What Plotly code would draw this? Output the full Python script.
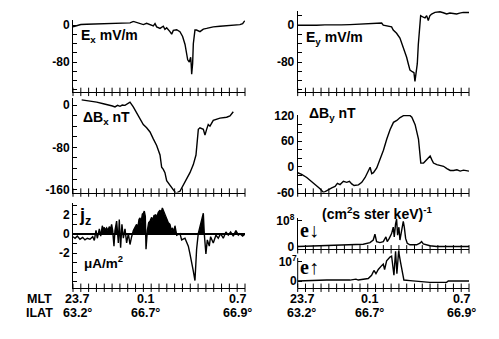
import plotly.graph_objects as go

W, H = 499, 339

# Horizontal coordinate: tick intervals along the pass, 0 = 23.7 MLT, 22 = 0.7 MLT
X_TICKS = list(range(23))
MLT_TICKS = [0, 9, 22]
MLT_LABELS = ["23.7", "0.1", "0.7"]
ILAT_LABELS = ["63.2", "66.7", "66.9"]

# Electric field Ex (mV/m)
T_EX = [0, 0.5, 1.0, 1.75, 2.5, 3.46, 4.5, 5.5, 6.86, 7.3, 7.72, 8.14, 8.57, 9.0, 9.42,
        9.85, 10.27, 10.49, 10.7, 11.13, 11.55, 11.76, 11.98, 12.4, 12.62, 12.83, 13.26,
        13.68, 14.02, 14.33, 14.54, 14.67, 14.88, 15.05, 15.12, 15.18, 15.3, 15.39, 15.6,
        15.8, 16.24, 16.67, 17.09, 17.94, 18.8, 19.65, 20.5, 21.35, 21.7, 22.0]
EX = [-3.5, -1, 1.5, 2.1, 2.3, 2.8, 3.0, 3.2, 4.2, 5.0, 8.3, 5.5, 3.5, 1.4, 4.2,
      2.1, -1.4, 3.5, -3.5, -6.9, -2.1, -9, -5.5, -13.9, -19.4, -11.1, -9.7,
      -13.9, -24.3, -41.6, -62.4, -74.8, -79.6, -69.3, -85, -106, -83, -40, -10.4,
      -10.4, -13.9, -8.3, -6.9, -3.5, -2.1, -1.4, 0, 1.4, 3.5, 10.4]

# Electric field Ey (mV/m)
T_EY = [0, 1.2, 2.43, 3.5, 4.57, 5.6, 6.71, 7.8, 8.85, 9.8, 10.78, 10.99, 11.5, 12.06,
        12.27, 12.7, 13.13, 13.35, 13.56, 13.77, 13.99, 14.2, 14.42, 14.72, 14.93, 15.06,
        15.19, 15.36, 15.49, 15.7, 15.79, 16.13, 16.35, 16.56, 16.77, 16.98, 17.2, 17.63,
        18.27, 18.7, 19.13, 19.55, 20.41, 20.8, 21.26, 22.0]
EY = [0, -0.7, 0, 0.7, 0, 0.7, 1.4, 2.1, 3.5, 2.8, 4.9, 0, -1.4, -3.5,
      -10.4, -17.3, -27.7, -38.1, -45, -58.9, -69.3, -83.2, -97, -100.5, -102.6, -121.3,
      -107.4, -83.2, -41.6, 13.9, 20.8, 17.3, 16, 20.8, 10.4, 20.8, 24.3, 27.7,
      29.1, 27, 24.3, 26.3, 24.3, 26.3, 27.7, 27.7]

# Magnetic perturbation dBx (nT)
T_BX = [1.11, 1.75, 2.4, 3.03, 3.88, 4.3, 4.73, 5.05, 5.37, 5.7, 6.01, 6.3, 6.65, 7.08,
        7.29, 7.71, 8.14, 8.57, 8.99, 9.42, 9.85, 10.27, 10.7, 11.13, 11.34, 11.55, 11.76,
        11.98, 12.4, 12.83, 13.17, 13.68, 14.11, 14.54, 14.96, 15.39, 15.73, 16.03, 16.24,
        16.67, 16.88, 17.09, 17.3, 17.52, 17.94, 18.8, 19.65, 20.08, 20.5]
BX = [9.7, 8.5, 7, 5.5, 2.4, 1.2, -0.6, -1.8, -3.6, -0.6, -2.4, 0, -0.6, 3.6,
      5.5, -3.6, -15.8, -26.7, -37, -43, -50.9, -64, -76.4, -94.5, -117.6, -121.8, -127.9,
      -143, -152, -161, -167, -163, -152, -140, -127.9, -112.7, -94.5, -46, -43,
      -46, -57, -46, -37, -40, -29.1, -24.8, -23, -20.6, -12.7]

# Magnetic perturbation dBy (nT)
T_BY = [0, 0.51, 1.16, 1.8, 2.44, 2.87, 3.3, 3.73, 4.37, 4.8, 5.1, 5.44, 5.87, 6.3, 6.64,
        6.94, 7.24, 7.8, 8.23, 8.66, 9.08, 9.3, 9.51, 9.73, 10.15, 10.58, 11.01, 11.44,
        11.87, 12.3, 12.73, 13.15, 13.58, 14.01, 14.44, 14.66, 15.08, 15.51, 15.73, 15.81,
        16.16, 16.59, 17.01, 17.23, 17.44, 17.87, 18.3, 18.73, 19.16, 19.59, 20.02, 20.45,
        20.87, 21.3, 22.0]
BY = [-13.6, -17.3, -24.8, -33.8, -43.5, -51, -60, -54.8, -48.8, -45.8, -38.3, -41.3,
      -33.8, -36, -33.8, -39.8, -43.5, -42, -36, -24.8, -9.8, -0.8, -15.8, -13.6, -2.3,
      16.5, 39, 65.3, 87.8, 104.3, 108.8, 115.5, 120, 120, 120, 116.3, 99, 65.3, 24, 9,
      9, 16.5, 25.5, 16.5, 9, 5.3, 3, 1.5, -3.8, -8.3, -8.3, -6.8, -9.8, -7.5, -9.8]

# Field-aligned current density jz (uA/m^2)
T_JZ = [0, 0.26, 0.55, 0.89, 1.24, 1.53, 1.83, 2.17, 2.52, 2.73,
        2.94, 3.11, 3.37, 3.54, 3.75, 3.88, 3.97, 4.13, 4.3, 4.47, 4.64, 4.81, 4.94, 5.07,
        5.24, 5.37, 5.58, 5.8, 5.92, 6.09, 6.26, 6.44, 6.65, 6.86, 7.08, 7.29, 7.5, 7.72,
        7.93, 8.14, 8.27, 8.44, 8.57, 8.7, 8.87, 9.0, 9.12, 9.25, 9.34, 9.51, 9.68, 9.85,
        10.06, 10.19, 10.36, 10.57, 10.7, 10.91, 11.13, 11.26, 11.43, 11.64, 11.81, 11.98,
        12.19, 12.4, 12.57, 12.74, 12.91, 13.04, 13.26,
        13.68, 13.9, 14.32, 14.75, 14.96, 15.18, 15.39, 15.6, 15.81, 16.02,
        16.24, 16.45, 16.67, 16.79, 17.0, 17.18, 17.43, 17.6, 17.94, 18.28,
        18.58, 18.88, 19.22, 19.56, 19.86, 20.16, 20.5, 20.84, 21.14, 21.35, 21.7, 22.0]
JZ = [-0.29, -0.45, -0.23, -0.55, -0.36, -0.62, -0.45, -0.55, -0.29, -0.68,
      0.36, -0.45, 0.52, -0.23, 0.85, 0.36, 0.68, 0.42, 0.62, 0.36, 0.75, 0.52, 1.0, 0.36,
      -1.27, 0.36, 1.33, -0.94, 1.5, -1.43, 1.0, -0.45, 0.52, -0.94, 0.03, -1.1, -0.29, 0.36,
      0.68, 1.0, 0.52, 1.5, 1.66, 1.17, 2.05, 2.15, 2.37, 1.82, -1.6, 0.36, 1.17, 1.33,
      1.72, 1.4, 1.92, 1.98, 1.72, 2.24, 2.47, 2.15, 2.7, 2.31, 1.82, 1.66,
      1.17, 1.0, 0.36, 0.62, 0.1, 0.85, -0.13,
      0.03, -0.62, -0.45, -1.27, -2.08, -2.9, -3.87, -4.85, -1.6, 0.03,
      0.68, 1.33, 2.15, 0.03, -2.08, -0.62, -1.27, -0.29, -0.94, -0.13,
      -0.45, 0.03, -0.45, 0.2, -0.13, 0.2, -0.23, 0.36, -0.13, 0.03, -0.23, -0.03]

# Downgoing electron flux (units of 1e8 (cm^2 s ster keV)^-1)
T_ED = [0, 2.43, 4.57, 6.71, 8.42, 9.28, 9.7, 9.92, 10.13, 10.56,
        10.99, 11.33, 11.5, 11.76, 12.06, 12.27, 12.4, 12.57, 12.7, 12.83,
        13.0, 13.13, 13.35, 13.56, 13.69, 13.86, 14.07, 14.42, 15.27, 15.7,
        15.91, 16.13, 16.98, 17.84, 21.26, 22.0]
E_DOWN = [0, 0.025, 0.037, 0.05, 0.086, 0.148, 0.247, 0.47, 0.185, 0.148,
          0.185, 0.37, 0.185, 0.309, 0.494, 0.74, 0.37, 0.864, 1.05, 0.432,
          0.74, 0.247, 0.617, 0.963, 0.74, 0.309, 0.123, 0.062, 0.062, 0.123,
          0.185, 0.1, 0.025, 0, 0, 0]

# Upgoing electron flux (units of 1e7 (cm^2 s ster keV)^-1)
T_EU = [0, 3.72, 6.71, 7.48, 7.78, 8.64, 9.06, 9.49, 9.79, 10.05,
        10.35, 10.78, 10.99, 11.16, 11.42, 11.85, 12.06, 12.36, 12.57, 12.74,
        12.96, 13.21, 13.47, 13.64, 14.42, 16.98, 19.12, 19.34, 22.0]
E_UP = [0, 0.05, 0.05, 0.1, 0.05, 0.08, 0.13, 0.3, 0.55, 0.38,
        0.6, 0.8, 0.88, 0.6, 1.05, 1.25, 1.3, 0.3, 1.55, 0.38,
        1.55, 0.97, 0.3, 0.05, 0.02, -0.07, -0.07, 0, 0]

FONT = "Liberation Sans, Arial, sans-serif"
SERIF = "Liberation Serif, Times New Roman, serif"
LEFT = (73, 245)
RIGHT = (297.7, 469)


def px_x(x):
    return x / W


def px_y(y):
    return 1 - y / H


def tick_set(labelled, step=None):
    vals = sorted(labelled)
    d = dict(tickvals=vals, ticktext=[labelled[v] for v in vals])
    if step:
        d["minor"] = dict(tickmode="linear", tick0=0, dtick=step, ticks="inside",
                          ticklen=4, tickwidth=1, tickcolor="black")
    return d


panels = [
    dict(t=T_EX, v=EX, cols=LEFT, rows=(15, 89.3), yr=[-144.1, 10.4],
         ticks=tick_set({0: "0", -80: "-80"}, 20)),
    dict(t=T_EY, v=EY, cols=RIGHT, rows=(5, 89.3), yr=[-144.1, 31.2],
         ticks=tick_set({0: "0", -80: "-80"}, 20)),
    dict(t=T_BX, v=BX, cols=LEFT, rows=(96, 194), yr=[-165.5, 12.7],
         ticks=tick_set({0: "0", -80: "-80", -160: "-160"}, 20)),
    dict(t=T_BY, v=BY, cols=RIGHT, rows=(113, 194), yr=[-60, 122.3],
         ticks=tick_set({120: "120", 60: "60", 0: "0", -60: "-60"}, 20)),
    dict(t=T_JZ, v=JZ, cols=LEFT, rows=(205, 293), yr=[-5.6, 3.2],
         ticks=tick_set({2: "2", 0: "0", -2: "-2"}, 1), zero=True),
    dict(t=T_ED, v=E_DOWN, cols=RIGHT, rows=(220, 253), yr=[-0.11, 1.11],
         ticks=tick_set({0: "0", 1: "10<sup>8</sup>"})),
    dict(t=T_EU, v=E_UP, cols=RIGHT, rows=(252, 293), yr=[-0.35, 1.7],
         ticks=tick_set({0: "0", 1: "10<sup>7</sup>"}), axis_top=1.2),
]

fig = go.Figure()
layout = {}
shapes = []

for i, p in enumerate(panels, start=1):
    s = "" if i == 1 else str(i)
    xa, ya = f"x{s}", f"y{s}"
    l, r = p["cols"]
    top, bot = p["rows"]
    layout[f"xaxis{s}"] = dict(
        domain=[px_x(l), px_x(r)], range=[0, 22], anchor=ya,
        showline=True, linecolor="black", linewidth=1,
        showgrid=False, zeroline=False, showticklabels=False, ticks="",
    )
    layout[f"yaxis{s}"] = dict(
        domain=[px_y(bot), px_y(top)], range=p["yr"], anchor=xa,
        showline="axis_top" not in p, linecolor="black", linewidth=1,
        showgrid=False, ticks="inside", ticklen=4, tickwidth=1, tickcolor="black",
        tickfont=dict(family=FONT, size=12, color="black", weight="bold"),
        zeroline=bool(p.get("zero")), zerolinecolor="black", zerolinewidth=2,
        **p["ticks"],
    )
    if "axis_top" in p:
        # the upgoing-flux curve may rise above its own axis, so draw the axis line by hand
        shapes.append(dict(type="line", xref=f"{xa} domain", yref=ya,
                           x0=0, x1=0, y0=p["yr"][0], y1=p["axis_top"],
                           line=dict(color="black", width=1)))

    if p.get("zero"):
        # black fill under the positive part of the curve
        fx, fy = [], []
        t, v = p["t"], p["v"]
        for k in range(len(t)):
            if k > 0 and (v[k - 1] > 0) != (v[k] > 0):
                f = v[k - 1] / (v[k - 1] - v[k])
                fx.append(t[k - 1] + f * (t[k] - t[k - 1]))
                fy.append(0)
            fx.append(t[k])
            fy.append(max(v[k], 0))
        fig.add_trace(go.Scatter(x=fx, y=fy, xaxis=xa, yaxis=ya, mode="lines",
                                 fill="tozeroy", fillcolor="black",
                                 line=dict(width=0, color="black"), hoverinfo="skip"))

    fig.add_trace(go.Scatter(x=p["t"], y=p["v"], xaxis=xa, yaxis=ya, mode="lines",
                             line=dict(color="black", width=1.4), hoverinfo="skip"))
    # crossing tick marks on the time axis
    fig.add_trace(go.Scatter(x=X_TICKS, y=[p["yr"][0]] * len(X_TICKS), xaxis=xa, yaxis=ya,
                             mode="markers", cliponaxis=False, hoverinfo="skip",
                             marker=dict(symbol="line-ns", size=6, color="black",
                                         line=dict(width=1, color="black"))))

annotations = []


def label(text, x, y, size=14, family=FONT, xanchor="left", weight="bold"):
    annotations.append(dict(text=text, x=px_x(x), y=px_y(y), xref="paper", yref="paper",
                            xanchor=xanchor, yanchor="middle", showarrow=False,
                            font=dict(family=family, size=size, color="black", weight=weight)))


label("E<sub>x</sub> mV/m", 79, 31)
label("E<sub>y</sub> mV/m", 304, 33)
label("ΔB<sub>x</sub> nT", 81, 116)
label("ΔB<sub>y</sub> nT", 307, 112)
label("j<sub>z</sub>", 77, 219, size=18)
label("μA/m<sup>2</sup>", 82, 266, size=13.5)
label("(cm<sup>2</sup>s ster keV)<sup>-1</sup>", 320, 215)
label("e↓", 298, 233, size=20, family=SERIF)
label("e↑", 298, 271, size=20, family=SERIF)

ROW_MLT, ROW_ILAT, ROW_SIZE = 305, 319.5, 12.5
label("MLT", 39, ROW_MLT, size=ROW_SIZE, xanchor="center")
label("ILAT", 39, ROW_ILAT, size=ROW_SIZE, xanchor="center")

# MLT / ILAT values under both bottom panels
label_shift = [4, 2, -8]
for xa in ("x5", "x7"):
    for tick, mlt, ilat, sh in zip(MLT_TICKS, MLT_LABELS, ILAT_LABELS, label_shift):
        for text, y in ((mlt, ROW_MLT), (ilat + "°", ROW_ILAT)):
            annotations.append(dict(text=text, x=tick, xref=xa, y=px_y(y), yref="paper",
                                    xanchor="center", yanchor="middle", xshift=sh,
                                    showarrow=False,
                                    font=dict(family=FONT, size=ROW_SIZE, color="black",
                                              weight="bold")))

fig.update_layout(
    width=W, height=H, margin=dict(l=0, r=0, t=0, b=0),
    paper_bgcolor="white", plot_bgcolor="rgba(0,0,0,0)",
    showlegend=False, annotations=annotations, shapes=shapes,
    **layout,
)

fig.write_html("out.html", config={"displayModeBar": False})
